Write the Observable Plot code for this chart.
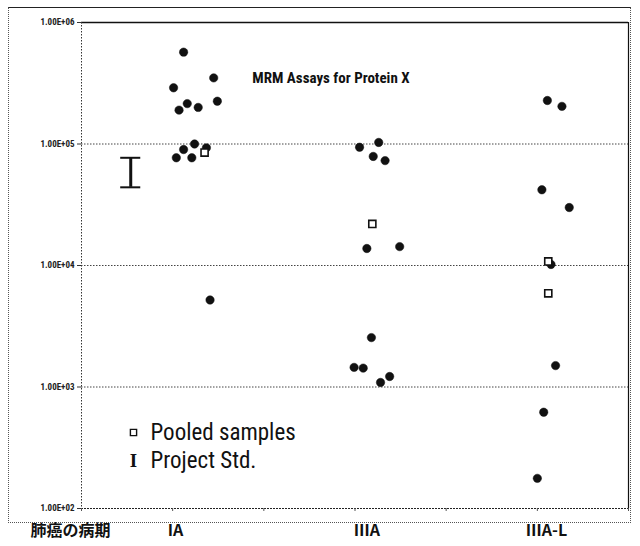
<!DOCTYPE html>
<html>
<head>
<meta charset="utf-8">
<script src="https://cdn.jsdelivr.net/npm/d3@7"></script>
<script src="https://cdn.jsdelivr.net/npm/@observablehq/plot@0.6"></script>
<style>
  html, body { margin: 0; padding: 0; background: #fff; }
  #wrap { position: relative; width: 640px; height: 546px; }
  #outer { position: absolute; left: 8px; top: 7px; width: 623px; height: 516px; border: 1px dotted #555; border-top: 1.5px solid #222; box-sizing: border-box; pointer-events: none; }
  svg { display: block; }
</style>
</head>
<body>
<div id="wrap"><div id="outer"></div></div>
<script>
// ---- data ----
const categories = ["IA", "ⅢA", "ⅢA-L"];
const categoryX = [1.03, 3.13, 5.1];
const axisTitle = "肺癌の病期";
const axisTitleX = -0.12;

// individual assay points: jittered x position, value
const iaX = [1.12, 1.45, 1.01, 1.16, 1.49, 1.28, 1.07, 1.24, 1.12, 1.04, 1.21, 1.37, 1.41];
const iaY = [5.7e5, 3.5e5, 2.9e5, 2.15e5, 2.25e5, 2.0e5, 1.9e5, 1.0e5, 9.0e4, 7.7e4, 7.7e4, 9.3e4, 5.2e3];
const iiiaX = [3.05, 3.26, 3.20, 3.33, 3.13, 3.49, 3.18, 2.99, 3.09, 3.38, 3.28];
const iiiaY = [9.4e4, 1.03e5, 7.9e4, 7.3e4, 1.38e4, 1.43e4, 2.55e3, 1.45e3, 1.43e3, 1.22e3, 1.09e3];
const iiialX = [5.11, 5.27, 5.05, 5.35, 5.15, 5.20, 5.07, 5.00];
const iiialY = [2.28e5, 2.04e5, 4.2e4, 3.0e4, 1.02e4, 1.5e3, 6.2e2, 1.77e2];

// pooled samples
const pooledX = [1.35, 3.19, 5.12, 5.12];
const pooledY = [8.5e4, 2.2e4, 1.08e4, 5.9e3];

// project standard range
const stdX = [0.54];
const stdLo = [4.4e4];
const stdHi = [7.7e4];

const yTicks = [1e2, 1e3, 1e4, 1e5, 1e6];
const yTickLabels = ["1.00E+02", "1.00E+03", "1.00E+04", "1.00E+05", "1.00E+06"];
const xTicks = [0, 1, 2, 3, 4, 5, 6];

const title = "MRM Assays for Protein X";
const legendLabels = ["Pooled samples", "Project Std."];

// ---- build tables ----
const points = [
  ...iaX.map((x, i) => ({x, y: iaY[i]})),
  ...iiiaX.map((x, i) => ({x, y: iiiaY[i]})),
  ...iiialX.map((x, i) => ({x, y: iiialY[i]}))
];
const pooled = pooledX.map((x, i) => ({x, y: pooledY[i]}));
const std = stdX.map((x, i) => ({x, lo: stdLo[i], hi: stdHi[i]}));
const cats = categories.map((c, i) => ({label: c, x: categoryX[i]}));
cats.unshift({label: axisTitle, x: axisTitleX});

const narrow = "'Liberation Sans Narrow', 'Roboto Condensed', 'Liberation Sans', Arial, sans-serif";

const chart = Plot.plot({
  width: 640,
  height: 546,
  marginLeft: 81,
  marginRight: 12,
  marginTop: 22,
  marginBottom: 38,
  style: {fontFamily: narrow, background: "transparent", overflow: "visible"},
  x: {domain: [0, 6], axis: null},
  y: {type: "log", domain: [1e2, 1e6], axis: null},
  marks: [
    // gridlines
    Plot.ruleY([1e3, 1e4, 1e5], {stroke: "#444", strokeWidth: 1, strokeDasharray: "1.5,1.5"}),
    Plot.ruleY([1e6], {stroke: "#111", strokeWidth: 1.5}),
    Plot.ruleY([1e2], {stroke: "#222", strokeWidth: 1.2, strokeDasharray: "2,1"}),
    Plot.ruleX([0], {stroke: "#333", strokeWidth: 1, strokeDasharray: "1.5,1.5"}),
    Plot.ruleX([6], {stroke: "#111", strokeWidth: 1.2}),
    // axes
    Plot.axisY({ticks: yTicks, label: null, tickFormat: (d) => yTickLabels[yTicks.indexOf(d)], tickSize: 4, tickPadding: 3, fontSize: 9, fontWeight: "bold", stroke: "#333", fill: "#222"}),
    Plot.axisX({ticks: xTicks, label: null, tickFormat: () => "", tickSize: 3, stroke: "#555"}),
    // category labels
    Plot.text(cats, {x: "x", text: "label", frameAnchor: "bottom", dy: 27, fontSize: 16, fontWeight: "bold", fill: "#111",
      fontFamily: "'Noto Sans CJK JP', 'Liberation Sans Narrow', sans-serif"}),
    // project std
    Plot.ruleX(std, {x: "x", y1: "lo", y2: "hi", stroke: "#111", strokeWidth: 3}),
    Plot.ruleY(std, {y: "lo", x1: d => d.x - 0.11, x2: d => d.x + 0.11, stroke: "#111", strokeWidth: 2}),
    Plot.ruleY(std, {y: "hi", x1: d => d.x - 0.11, x2: d => d.x + 0.11, stroke: "#111", strokeWidth: 2}),
    // points
    Plot.dot(points, {x: "x", y: "y", r: 4.2, fill: "#111", stroke: "#111", strokeWidth: 0.5}),
    Plot.dot(pooled, {x: "x", y: "y", symbol: "square", r: 4, fill: "white", stroke: "#111", strokeWidth: 1.6}),
    // title
    Plot.text([title], {frameAnchor: "top", dx: -24, dy: 50, fontSize: 15, fontWeight: "bold", fill: "#111"}),
    // legend
    Plot.dot([0], {frameAnchor: "top-left", dx: 52, dy: 410, symbol: "square", r: 3.5, fill: "white", stroke: "#111", strokeWidth: 1.4}),
    Plot.text([legendLabels[0]], {frameAnchor: "top-left", dx: 69, dy: 410, textAnchor: "start", lineAnchor: "middle", fontSize: 23, fill: "#111"}),
    Plot.text(["I"], {frameAnchor: "top-left", dx: 52, dy: 438, textAnchor: "middle", lineAnchor: "middle", fontSize: 19, fontWeight: "bold", fill: "#111", fontFamily: "'Liberation Serif', serif"}),
    Plot.text([legendLabels[1]], {frameAnchor: "top-left", dx: 69, dy: 438, textAnchor: "start", lineAnchor: "middle", fontSize: 23, fill: "#111"})
  ]
});
document.getElementById("wrap").prepend(chart);
</script>
</body>
</html>
